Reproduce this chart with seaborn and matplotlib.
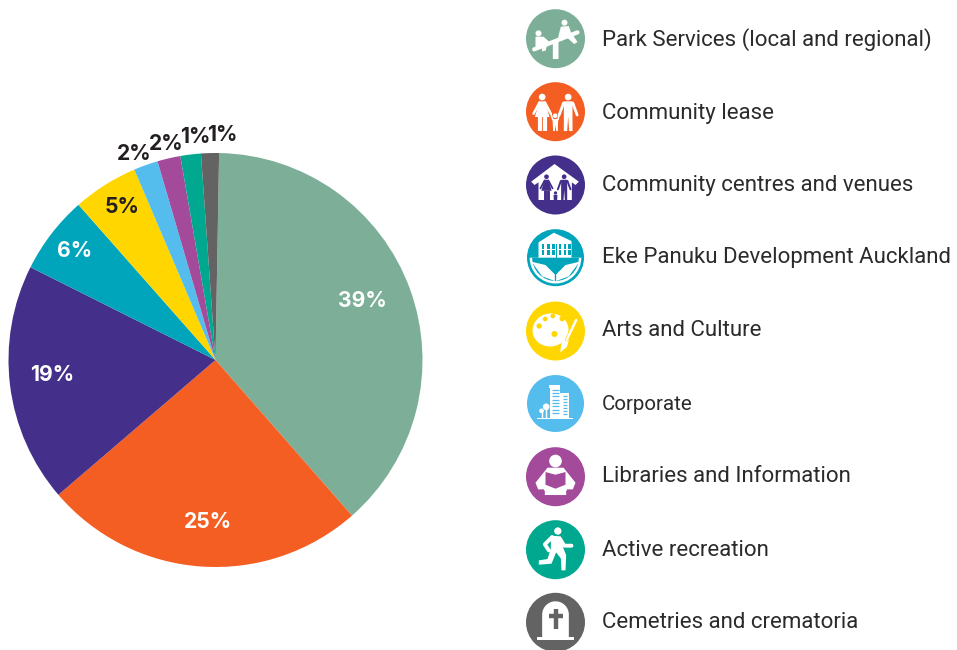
import numpy as np
import matplotlib
matplotlib.use("Agg")
import matplotlib.pyplot as plt
from matplotlib.patches import Circle, Polygon, Rectangle, Wedge, Ellipse
import seaborn as sns

categories = ["Park Services (local and regional)", "Community lease", "Community centres and venues",
              "Eke Panuku Development Auckland", "Arts and Culture", "Corporate",
              "Libraries and Information", "Active recreation", "Cemetries and crematoria"]
shares = [38.3, 25.2, 18.7, 6.1, 5.1, 1.9, 1.8, 1.6, 1.4]
labels = ["39%", "25%", "19%", "6%", "5%", "2%", "2%", "1%", "1%"]
colors = ["#7DAF98", "#F45E22", "#442F8A", "#00A5BC", "#FFD600", "#55BDEE", "#A34A9A", "#00A88F", "#636363"]
label_xy = [(362, 301), (208, 522), (52, 375), (75, 251), (122, 207), (134, 154), (166.5, 144), (195, 137), (222.5, 135)]
label_col = ["white", "white", "white", "white", "#231F20", "#231F20", "#231F20", "#231F20", "#231F20"]
icon_y = [38.7, 111.7, 185, 257.7, 331, 403.5, 476.7, 549.7, 622.3]
text_y = [40, 113, 186, 258, 331, 404, 477, 550, 623]
text_size = [16, 16, 16, 16, 16, 14.8, 16, 16, 16]

W, H = 957, 650
sns.set_theme(style="white")
plt.rcParams["font.family"] = ["Roboto", "DejaVu Sans"]
fig = plt.figure(figsize=(W / 100, H / 100), dpi=100, facecolor="white")

# pie
cx, cy, R = 215.5, 360, 207
ax = fig.add_axes([(cx - R) / W, 1 - (cy + R) / H, 2 * R / W, 2 * R / H])
ax.pie(shares, colors=sns.color_palette(colors), startangle=89, counterclock=False, radius=1,
       normalize=True, wedgeprops={"linewidth": 0})
ax.set_xlim(-1, 1); ax.set_ylim(-1, 1); ax.set_axis_off()

# overlay in pixel coordinates
ov = fig.add_axes([0, 0, 1, 1], facecolor="none")
ov.set_xlim(0, W); ov.set_ylim(H, 0); ov.set_axis_off()

for (x, y), t, c in zip(label_xy, labels, label_col):
    ov.text(x, y, t, ha="center", va="center", color=c, fontsize=15.2, fontweight="bold",
            family=["Inter", "DejaVu Sans"])
for y, t, s in zip(text_y, categories, text_size):
    ov.text(602, y, t, ha="left", va="center", color="#2B2B2B", fontsize=s, family=["Roboto", "DejaVu Sans"])

ICON_X = 555.5
def pt(c, p):
    return (ICON_X + p[0] / 3, c + p[1] / 3)
def poly(c, pts, col="white"):
    ov.add_patch(Polygon([pt(c, p) for p in pts], closed=True, fc=col, ec="none"))
def circ(c, p, r, col="white"):
    ov.add_patch(Circle(pt(c, p), r / 3, fc=col, ec="none"))
def line(c, pts, lw=1.5, col="white", cap="round"):
    xy = np.array([pt(c, p) for p in pts])
    ov.plot(xy[:, 0], xy[:, 1], color=col, lw=lw, solid_capstyle=cap, solid_joinstyle="round")

def woman(c, x, y, s, col="white"):
    circ(c, (x, y - 44 * s), 10 * s, col)
    poly(c, [(x - 9*s, y - 31*s), (x + 9*s, y - 31*s), (x + 22*s, y + 16*s), (x - 22*s, y + 16*s)], col)
    line(c, [(x - 8*s, y - 28*s), (x - 26*s, y + 6*s)], 1.8 * s, col)
    line(c, [(x + 8*s, y - 28*s), (x + 26*s, y + 6*s)], 1.8 * s, col)
    line(c, [(x - 8*s, y + 14*s), (x - 8*s, y + 58*s)], 3.0 * s, col, "butt")
    line(c, [(x + 8*s, y + 14*s), (x + 8*s, y + 58*s)], 3.0 * s, col, "butt")
def man(c, x, y, s, col="white"):
    circ(c, (x, y - 44 * s), 10 * s, col)
    poly(c, [(x - 13*s, y - 31*s), (x + 13*s, y - 31*s), (x + 13*s, y + 58*s), (x + 3*s, y + 58*s),
             (x, y + 14*s), (x - 3*s, y + 58*s), (x - 13*s, y + 58*s)], col)
    line(c, [(x - 14*s, y - 26*s), (x - 27*s, y + 10*s)], 2.0 * s, col)
    line(c, [(x + 14*s, y - 26*s), (x + 27*s, y + 10*s)], 2.0 * s, col)

for c, col in zip(icon_y, colors):
    r = 28.5 if col in ("#00A5BC", "#55BDEE") else 29.5
    ov.add_patch(Circle((ICON_X, c), r, fc=col, ec="none"))

# seesaw
c = icon_y[0]
line(c, [(-64, 32), (66, -19)], 3.0, cap="round")
poly(c, [(-8, 8), (9, 2), (9, 61), (-8, 61)])
circ(c, (-51, -16), 9); circ(c, (27, -48), 9)
poly(c, [(-60, -6), (-36, -6), (-20, 8), (-24, 16), (-30, 36), (-40, 38), (-42, 16), (-50, 28), (-60, 24)])
poly(c, [(16, -36), (40, -38), (46, -20), (66, 10), (56, 16), (36, -2), (24, 0), (18, 8), (8, -4)])

# family
c = icon_y[1]
woman(c, -40, 0, 1.0); man(c, 38, 0, 1.0)
circ(c, (-1, 12), 7)
poly(c, [(-9, 22), (8, 22), (7, 58), (2, 58), (0, 40), (-2, 58), (-7, 58)])
line(c, [(-14, 6), (-8, 24)], 1.2); line(c, [(12, 6), (7, 24)], 1.2)

# community house
c = icon_y[2]
poly(c, [(-3, -63), (70, -10), (60, 0), (49, -8), (49, 45), (-51, 45), (-51, -8), (-63, 0), (-73, -10)])
col = colors[2]
woman(c, -27, 6, 0.7, col); man(c, 26, 6, 0.7, col)
circ(c, (0, 24), 5, col)
poly(c, [(-6, 30), (6, 30), (5, 46), (-5, 46)], col)

# Panuku
c = icon_y[3]
poly(c, [(-51, -46), (-5, -75), (48, -50), (48, 8), (2, 44), (-51, 8)])
for gx in (-42, -26, -11, 9, 24, 37):
    for gy in (-42, -22, 0):
        ov.add_patch(Rectangle(pt(c, (gx, gy)), 2.8, 4.8, fc=colors[3], ec="none"))
ov.add_patch(Wedge((ICON_X, c), 25.8, 0, 180, fc="white", ec="none"))
ov.add_patch(Wedge((ICON_X, c), 23.3, 0, 180, fc=colors[3], ec="none"))
poly(c, [(-72, 12), (-30, 22), (-2, 50), (-2, 70), (-40, 56)])
poly(c, [(72, 12), (30, 22), (2, 50), (2, 70), (40, 56)])
line(c, [(0, -40), (0, 46)], 0.8, colors[3])

# palette
c = icon_y[4]
ov.add_patch(Ellipse((ICON_X - 5, c - 1), 36, 33, angle=-8, fc="white", ec="none"))
for p, rr in [((-49, -15), 8), ((-31, -36), 7), ((-8, -45), 7), ((20, -37), 8), ((-3, 9), 9)]:
    circ(c, p, rr, colors[4])
line(c, [(62, -33), (34, 26)], 2.6, colors[4])
line(c, [(62, -33), (34, 26)], 1.8)
poly(c, [(26, 22), (40, 28), (34, 48), (14, 64), (18, 36)])

# corporate
c = icon_y[5]
poly(c, [(-56, 42), (52, 42), (52, 45), (-56, 45)])
poly(c, [(-16, 42), (-16, -48), (-20, -48), (-20, -56), (14, -56), (14, -48), (14, -48), (14, 42)])
poly(c, [(14, 42), (14, -33), (41, -33), (41, 42)])
for gy in range(-42, 38, 10):
    line(c, [(-10, gy), (9, gy)], 0.9, colors[5], "butt")
for gy in range(-24, 38, 9):
    line(c, [(21, gy), (35, gy)], 0.9, colors[5], "butt")
circ(c, (-28, 10), 10); circ(c, (-42, 22), 7)
line(c, [(-28, 10), (-28, 42)], 1.0); line(c, [(-42, 22), (-42, 42)], 1.0)

# library
c = icon_y[6]
circ(c, (0, -47), 19)
poly(c, [(-24, -27), (24, -27), (60, 18), (52, 38), (32, 38), (32, 55), (-32, 55), (-32, 38), (-52, 38), (-60, 18)])
poly(c, [(-30, -14), (0, -6), (30, -14), (30, 24), (0, 36), (-30, 24)], colors[6])
poly(c, [(-34, 28), (0, 40), (34, 28), (34, 42), (-34, 42)])

# runner
c = icon_y[7]
circ(c, (7, -56), 11)
poly(c, [(-14, -42), (16, -40), (22, -8), (32, 16), (30, 62), (18, 62), (16, 26), (2, 8), (-12, 42), (-50, 45),
         (-50, 32), (-24, 28), (-14, -4)])
line(c, [(-10, -38), (-32, -16), (-20, 2)], 2.8)
line(c, [(14, -32), (26, -12), (48, -12)], 2.8)

# cemetery
c = icon_y[8]
t = np.linspace(np.pi, 0, 40)
arch = [(-40, 0)] + [(40 * np.cos(a), -23 - 40 * np.sin(a)) for a in t] + [(40, 46), (-40, 46)]
poly(c, arch)
poly(c, [(-55, 43), (55, 43), (55, 53), (-55, 53)])
line(c, [(0, -40), (0, 20)], 3.2, "#636363", "butt")
line(c, [(-21, -20), (21, -20)], 3.2, "#636363", "butt")

fig.savefig("out.png", dpi=100)
